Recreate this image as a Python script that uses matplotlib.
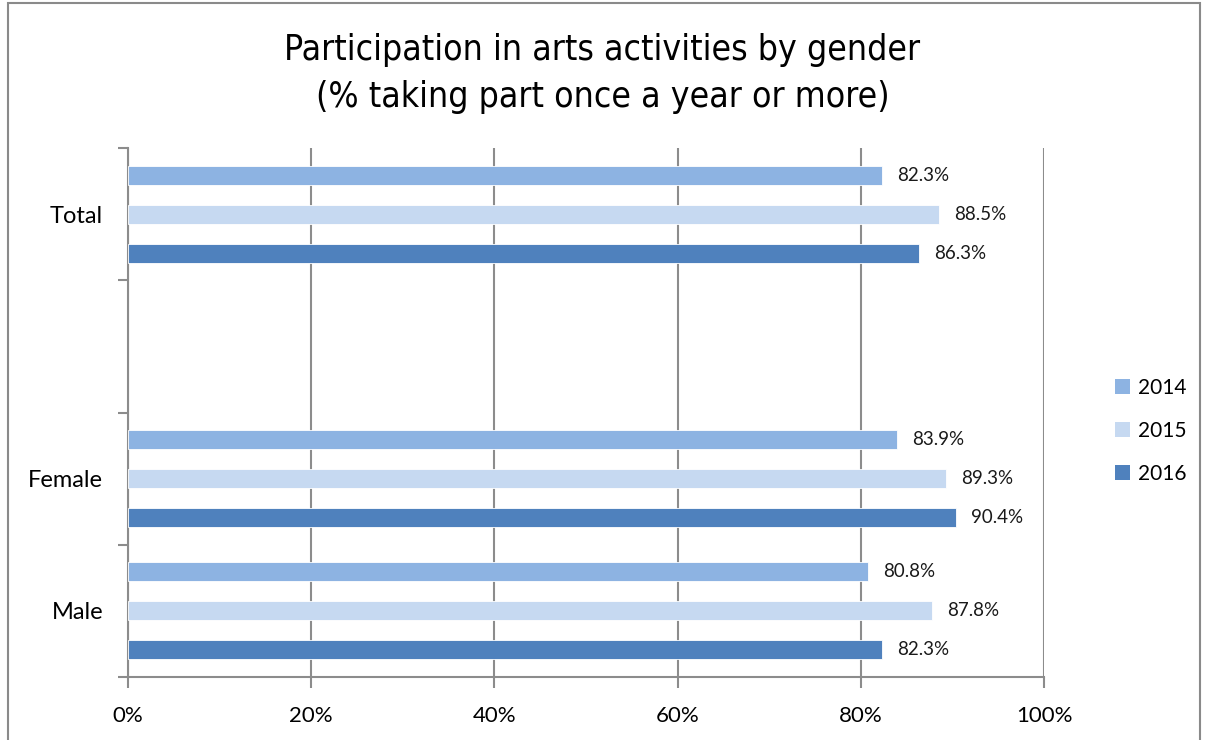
import matplotlib
matplotlib.use("Agg")
import matplotlib.pyplot as plt
from matplotlib.patches import Rectangle, Patch
from matplotlib import font_manager
import numpy as np

categories = ["Male", "Female", "", "Total"]
years = ["2014", "2015", "2016"]
values_2014 = [80.8, 83.9, None, 82.3]
values_2015 = [87.8, 89.3, None, 88.5]
values_2016 = [82.3, 90.4, None, 86.3]
x_ticks = [0, 20, 40, 60, 80, 100]
x_tick_labels = ["0%", "20%", "40%", "60%", "80%", "100%"]

colors = ["#8DB3E2", "#C6D9F1", "#4F81BD"]
series = [values_2014, values_2015, values_2016]
offsets = [0.295, 0.0, -0.295]
bar_h = 0.145
grey = "#8C8C8C"

plt.rcParams["font.family"] = ["Lato", "DejaVu Sans"]

# narrow face for the headings
cond = [f.fname for f in font_manager.fontManager.ttflist
        if f.name == "DejaVu Sans" and f.stretch == "condensed" and f.weight in (400, "normal")
        and f.style == "normal"]
title_font = (font_manager.FontProperties(fname=cond[0]) if cond
              else font_manager.FontProperties(family="DejaVu Sans"))

fig = plt.figure(figsize=(12.05, 7.4), dpi=100)
ax = fig.add_axes([128 / 1205, 1 - 677 / 740, (1044 - 128) / 1205, (677 - 148) / 740])

# chart frame
fig.patches.append(Rectangle((8 / 1205, -0.1), (1200 - 8) / 1205, 1.1 - 3 / 740,
                             transform=fig.transFigure, fill=False,
                             edgecolor="#8A8A8A", linewidth=1.5))

centers = np.arange(len(categories)) + 0.5
for vals, off, col, yr in zip(series, offsets, colors, years):
    for c, v in zip(centers, vals):
        if v is None:
            continue
        ax.barh(c + off, v, height=bar_h, color=col, edgecolor="white",
                linewidth=0.6, zorder=3)
        ax.annotate(f"{v:.1f}%", xy=(v, c + off), xytext=(11, 0),
                    textcoords="offset points", va="center", ha="left",
                    fontsize=13.5, color="#1a1a1a")

ax.set_xlim(0, 100)
ax.set_ylim(0, 4)
ax.set_xticks(x_ticks)
ax.set_xticklabels(x_tick_labels, fontsize=16)
ax.set_yticks([0, 1, 2, 3, 4])
ax.set_yticklabels([])
ax.set_yticks(centers, minor=True)
ax.set_yticklabels(categories, minor=True, fontsize=17)
ax.tick_params(axis="y", which="minor", length=0, pad=18)
ax.tick_params(axis="y", which="major", length=7, width=1.5, color=grey)
ax.tick_params(axis="x", length=8, width=1.5, color=grey, pad=13)

ax.grid(axis="x", color=grey, linewidth=1.5, zorder=0)
ax.set_axisbelow(True)
for s in ["top", "right"]:
    ax.spines[s].set_visible(False)
for s in ["left", "bottom"]:
    ax.spines[s].set_color(grey)
    ax.spines[s].set_linewidth(1.5)

fig.text(0.5, 1 - 50 / 740, "Participation in arts activities by gender",
         ha="center", va="center", fontproperties=title_font, fontsize=25.5)
fig.text(0.5, 1 - 97 / 740, "(% taking part once a year or more)",
         ha="center", va="center", fontproperties=title_font, fontsize=25.5)

handles = [Patch(facecolor=c, edgecolor="none") for c in colors]
fig.legend(handles, years, loc="center left", bbox_to_anchor=(1096 / 1205, 1 - 431 / 740),
           frameon=False, fontsize=15, handlelength=0.75, handleheight=0.75,
           handletextpad=0.35, labelspacing=1.1)

fig.savefig("out.png", dpi=100)
